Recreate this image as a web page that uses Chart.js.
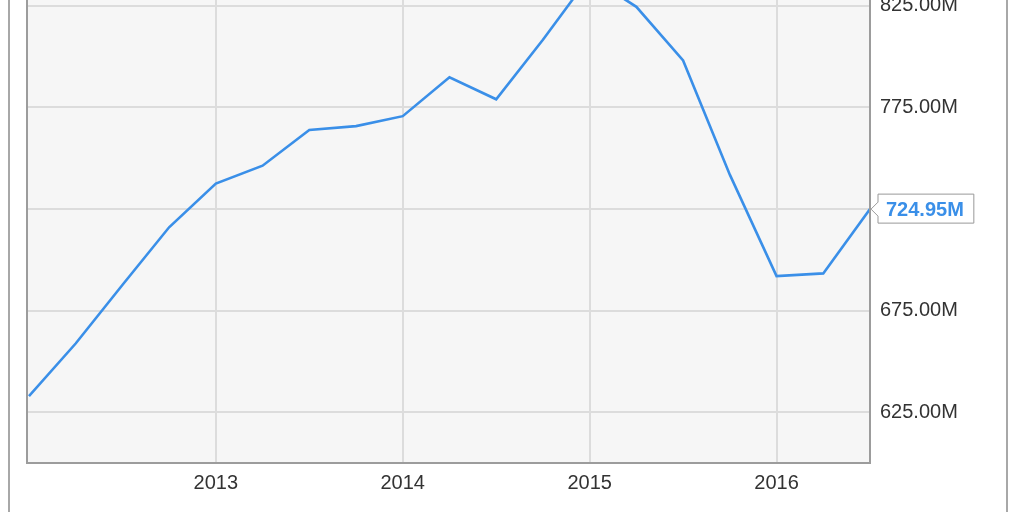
<!DOCTYPE html>
<html>
<head>
<meta charset="utf-8">
<script src="https://cdn.jsdelivr.net/npm/chart.js@4/dist/chart.umd.min.js"></script>
<style>
html, body { margin: 0; padding: 0; background: #fff; width: 1024px; height: 512px; overflow: hidden; }
#frame { position: absolute; left: 8px; top: 0; width: 996px; height: 512px; border-left: 2px solid #a8a8a8; border-right: 2px solid #a8a8a8; }
#wrap { position: absolute; left: 0; top: -68px; width: 1024px; height: 580px; }
</style>
</head>
<body>
<div id="frame"></div>
<div id="wrap"><canvas id="chart"></canvas></div>
<script>
// quarter ends, as decimal years
const quarters = [2012.0, 2012.25, 2012.5, 2012.75, 2013.0, 2013.25, 2013.5, 2013.75,
                  2014.0, 2014.25, 2014.5, 2014.75, 2015.0, 2015.25, 2015.5, 2015.75,
                  2016.0, 2016.25, 2016.5];
// values in millions
const revenue = [632.9, 658.8, 687.6, 716.0, 737.5, 746.3, 763.9, 765.8,
                 770.7, 789.8, 779.0, 808.3, 839.4, 824.5, 798.1, 741.9,
                 692.0, 693.3, 724.95];
const yearTicks = [2013, 2014, 2015, 2016];
const valueTicks = [625, 675, 725, 775, 825];

const LINE_BLUE = '#3a8fe8';
const FONT = '"Liberation Sans", Arial, sans-serif';

// grey plot background + border around the plot area
const plotFrame = {
    id: 'plotFrame',
    beforeDraw(chart) {
        const { ctx, chartArea: a } = chart;
        ctx.save();
        ctx.fillStyle = '#f6f6f6';
        ctx.fillRect(a.left, a.top, a.right - a.left, a.bottom - a.top);
        ctx.restore();
    },
    afterDatasetsDraw(chart) {
        const { ctx, chartArea: a } = chart;
        ctx.save();
        ctx.strokeStyle = '#9c9c9c';
        ctx.lineWidth = 2;
        ctx.beginPath();
        ctx.moveTo(a.left - 1, a.top);
        ctx.lineTo(a.left - 1, a.bottom);
        ctx.lineTo(a.right, a.bottom);
        ctx.lineTo(a.right, a.top);
        ctx.stroke();
        ctx.restore();
    }
};

// callout box with the last value
const lastLabel = {
    id: 'lastLabel',
    afterDraw(chart) {
        const { ctx } = chart;
        const meta = chart.getDatasetMeta(0);
        const pt = meta.data[meta.data.length - 1];
        const x = pt.x, y = pt.y;
        const text = revenue[revenue.length - 1].toFixed(2) + 'M';
        ctx.save();
        ctx.font = 'bold 20px ' + FONT;
        const w = ctx.measureText(text).width;
        const bx = x + 8, bw = w + 18, by = y - 15, bh = 29;
        ctx.beginPath();
        ctx.moveTo(x + 1, y);
        ctx.lineTo(bx, y - 7);
        ctx.lineTo(bx, by);
        ctx.lineTo(bx + bw, by);
        ctx.lineTo(bx + bw, by + bh);
        ctx.lineTo(bx, by + bh);
        ctx.lineTo(bx, y + 7);
        ctx.closePath();
        ctx.fillStyle = '#fff';
        ctx.fill();
        ctx.strokeStyle = '#999';
        ctx.lineWidth = 1;
        ctx.stroke();
        ctx.fillStyle = LINE_BLUE;
        ctx.textBaseline = 'middle';
        ctx.fillText(text, bx + 8, y + 1);
        ctx.restore();
    }
};

const chart = new Chart(document.getElementById('chart'), {
    type: 'line',
    data: {
        datasets: [{
            data: quarters.map((q, i) => ({ x: q, y: revenue[i] })),
            borderColor: LINE_BLUE,
            borderWidth: 2.6,
            pointRadius: 0,
            tension: 0,
            fill: false
        }]
    },
    options: {
        responsive: true,
        maintainAspectRatio: false,
        animation: false,
        layout: { padding: { top: 20, left: 28, right: 0, bottom: 0 } },
        plugins: { legend: { display: false }, tooltip: { enabled: false } },
        scales: {
            x: {
                type: 'linear',
                min: 2011.995,
                max: 2016.5,
                afterBuildTicks: (s) => { s.ticks = yearTicks.map(v => ({ value: v })); },
                afterFit: (s) => { s.height = 49; },
                border: { display: false },
                grid: { color: '#dcdcdc', lineWidth: 2, drawTicks: false },
                ticks: {
                    padding: 8,
                    maxRotation: 0,
                    color: '#333',
                    font: { family: FONT, size: 20 },
                    callback: (v) => String(v)
                }
            },
            y: {
                position: 'right',
                min: 600,
                max: 850.5,
                afterBuildTicks: (s) => { s.ticks = valueTicks.map(v => ({ value: v })); },
                afterFit: (s) => { s.width = 154; },
                border: { display: false },
                grid: { color: '#dcdcdc', lineWidth: 2, drawTicks: false },
                ticks: {
                    padding: 10,
                    color: '#333',
                    font: { family: FONT, size: 20 },
                    callback: (v) => v.toFixed(2) + 'M'
                }
            }
        }
    },
    plugins: [plotFrame, lastLabel]
});
</script>
</body>
</html>
